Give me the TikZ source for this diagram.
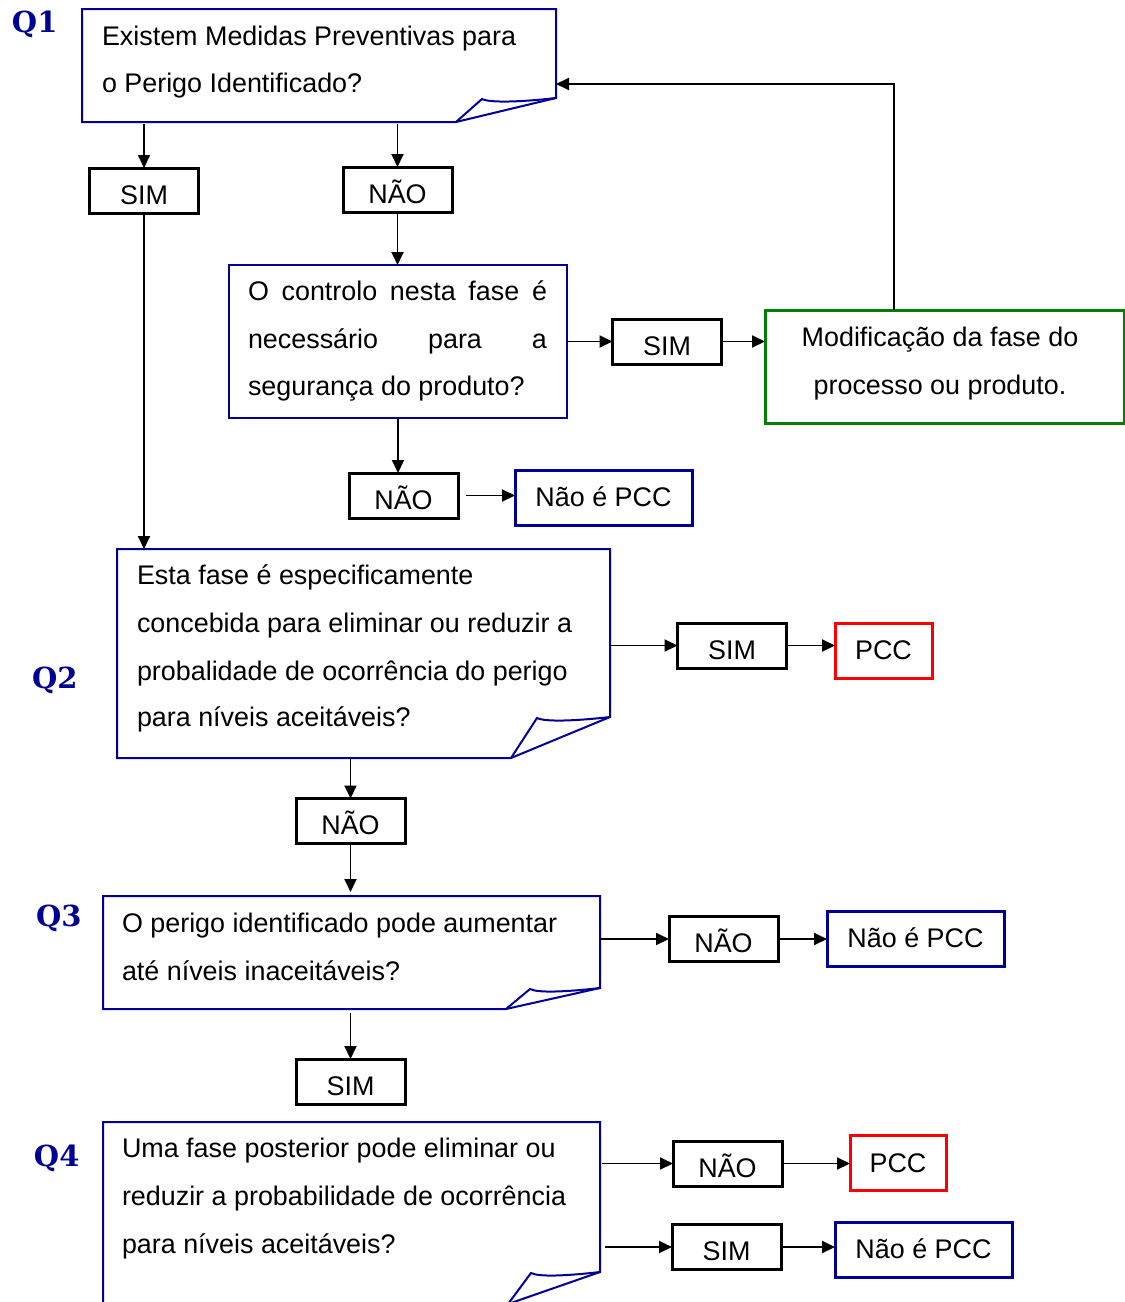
\documentclass[tikz,border=0pt]{standalone}
\usepackage{fontspec}
\newfontfamily\txtfont{Liberation Sans}
\newfontfamily\qfont{DejaVu Serif}
\usetikzlibrary{arrows.meta,calc}
\definecolor{qblue}{RGB}{0,0,150}
\definecolor{pccred}{RGB}{255,0,0}
\definecolor{modgreen}{RGB}{0,128,0}

% question box with a turned-up lower right corner
% #1 node, #2 fold width, #3 fold height, #4 flap offset
\newcommand\foldedbox[4]{%
  \draw[qline] (#1.south west) -- ($(#1.south east)+(-#2,0)$)
    -- ($(#1.south east)+(0,-#3)$) -- (#1.north east) -- (#1.north west) -- cycle;
  \draw[qline] ($(#1.south east)+(-#2,0)$) -- ($(#1.south east)+(-#2+#4,-#3+1)$)
    .. controls +(8,4) and +(-35,4) .. ($(#1.south east)+(0,-#3)$);
}

\begin{document}
\begin{tikzpicture}[x=1pt,y=-1pt,
  every node/.style={inner sep=0pt, outer sep=0pt},
  txt/.style={anchor=base west, font=\txtfont\fontsize{26.9}{32}\selectfont},
  ctxt/.style={anchor=base, font=\txtfont\fontsize{26.9}{32}\selectfont},
  qlabel/.style={anchor=base west, font=\qfont\bfseries\fontsize{29}{30}\selectfont, text=qblue},
  qbox/.style={rectangle, anchor=north west},
  qline/.style={draw=qblue, line width=2pt, line join=miter},
  answer/.style={rectangle, draw=black, line width=3pt, minimum width=109, minimum height=45,
    text height=27pt, text depth=0pt, font=\txtfont\fontsize{26.9}{32}\selectfont},
  result/.style={rectangle, line width=3pt, minimum height=55,
    text height=18pt, text depth=0pt, font=\txtfont\fontsize{26.9}{32}\selectfont},
  arr/.style={draw=black, line width=1.9pt, -{Triangle[length=13pt,width=12pt]}},
]
\clip (0,0) rectangle (1125,1302);
\fill[white] (0,0) rectangle (1125,1302);

% ---------- Q1 ----------
\node[qlabel] (lq1) at (12,32) {Q1};
\node[qbox, minimum width=474, minimum height=113] (q1) at (82,9) {};
\foldedbox{q1}{100}{24}{26}
\node[txt] (q1a) at (102,45) {Existem Medidas Preventivas para};
\node[txt] (q1b) at (102,92) {o Perigo Identificado?};

\node[answer] (sim1) at (144,190.5) {SIM};
\node[answer] (nao1) at (397.5,189.5) {NÃO};

\node[rectangle, draw=qblue, line width=2pt, minimum width=338, minimum height=153] (ctrl) at (398,341.5) {};
\node[txt] (ctrla) at (248,300) {\hbox to 299pt{O\hfill controlo\hfill nesta\hfill fase\hfill é}};
\node[txt] (ctrlb) at (248,348) {\hbox to 299pt{necessário\hfill para\hfill a}};
\node[txt] (ctrlc) at (248,395) {segurança do produto?};

\node[answer] (sim2) at (667,341.5) {SIM};
\node[rectangle, draw=modgreen, line width=3pt, minimum width=359, minimum height=113] (mod) at (944.5,366.5) {};
\node[ctxt] (moda) at (940,346) {Modificação da fase do};
\node[ctxt] (modb) at (940,394) {processo ou produto.};

\node[answer] (nao2) at (403.5,495.5) {NÃO};
\node[result, draw=qblue, minimum width=177] (npcc1) at (603.5,497.5) {Não é PCC};

% ---------- Q2 ----------
\node[qlabel] (lq2) at (32,688) {Q2};
\node[qbox, minimum width=493, minimum height=209] (q2) at (117,549) {};
\foldedbox{q2}{99}{41}{26}
\node[txt] (q2a) at (137,584) {Esta fase é especificamente};
\node[txt] (q2b) at (137,632) {concebida para eliminar ou reduzir a};
\node[txt] (q2c) at (137,680) {probalidade de ocorrência do perigo};
\node[txt] (q2d) at (137,726) {para níveis aceitáveis?};

\node[answer] (sim3) at (732,645.5) {SIM};
\node[result, draw=pccred, minimum width=97] (pcc1) at (883.5,650.5) {PCC};
\node[answer] (nao3) at (350.5,821) {NÃO};

% ---------- Q3 ----------
\node[qlabel] (lq3) at (36,926) {Q3};
\node[qbox, minimum width=497, minimum height=113] (q3) at (103,896) {};
\foldedbox{q3}{94}{21}{24}
\node[txt] (q3a) at (122,932) {O perigo identificado pode aumentar};
\node[txt] (q3b) at (122,980) {até níveis inaceitáveis?};

\node[answer] (nao4) at (723.5,939) {NÃO};
\node[result, draw=qblue, minimum width=177] (npcc2) at (915.5,938.5) {Não é PCC};
\node[answer] (sim4) at (350.5,1081.5) {SIM};

% ---------- Q4 ----------
\node[qlabel] (lq4) at (34,1166) {Q4};
\node[qbox, minimum width=497, minimum height=182] (q4) at (103,1122) {};
\foldedbox{q4}{92}{32}{23}
\node[txt] (q4a) at (122,1157) {Uma fase posterior pode eliminar ou};
\node[txt] (q4b) at (122,1205) {reduzir a probabilidade de ocorrência};
\node[txt] (q4c) at (122,1253) {para níveis aceitáveis?};

\node[answer] (nao5) at (727.5,1163.5) {NÃO};
\node[result, draw=pccred, minimum width=96] (pcc2) at (898,1163) {PCC};
\node[answer] (sim5) at (726.5,1247) {SIM};
\node[result, draw=qblue, minimum width=177] (npcc3) at (923.5,1249.5) {Não é PCC};

% ---------- connectors ----------
\coordinate (back) at (894,84);
\draw[arr, shorten <=2pt] (sim1.north |- q1.south) -- (sim1.north);
\draw[arr, shorten <=2pt] (nao1.north |- q1.south) -- (nao1.north);
\draw[arr] (nao1.south) -- (nao1.south |- ctrl.north);
\draw[arr] (ctrl.east) -- (sim2.west);
\draw[arr] (sim2.east) -- (mod.west |- sim2.east);
\draw[arr] (mod.north -| back) |- (q1.east |- back);
\draw[arr] (ctrl.south) -- (ctrl.south |- nao2.north);
\draw[arr, shorten <=8pt] (nao2.east) -- (npcc1.west |- nao2.east);
\draw[arr] (sim1.south) -- (sim1.south |- q2.north);

\draw[arr] (q2.east |- sim3.west) -- (sim3.west);
\draw[arr] (sim3.east) -- (pcc1.west |- sim3.east);
\draw[arr] (nao3.north |- q2.south) -- (nao3.north);
\draw[arr, shorten >=4pt] (nao3.south) -- (nao3.south |- q3.north);

\draw[arr] (q3.east |- nao4.west) -- (nao4.west);
\draw[arr] (nao4.east) -- (npcc2.west |- nao4.east);
\draw[arr, shorten <=4pt] (sim4.north |- q3.south) -- (sim4.north);

\draw[arr, shorten <=2pt] (q4.east |- nao5.west) -- (nao5.west);
\draw[arr] (nao5.east) -- (pcc2.west |- nao5.east);
\draw[arr, shorten <=5pt] (q4.east |- sim5.west) -- (sim5.west);
\draw[arr] (sim5.east) -- (npcc3.west |- sim5.east);
\end{tikzpicture}
\end{document}
